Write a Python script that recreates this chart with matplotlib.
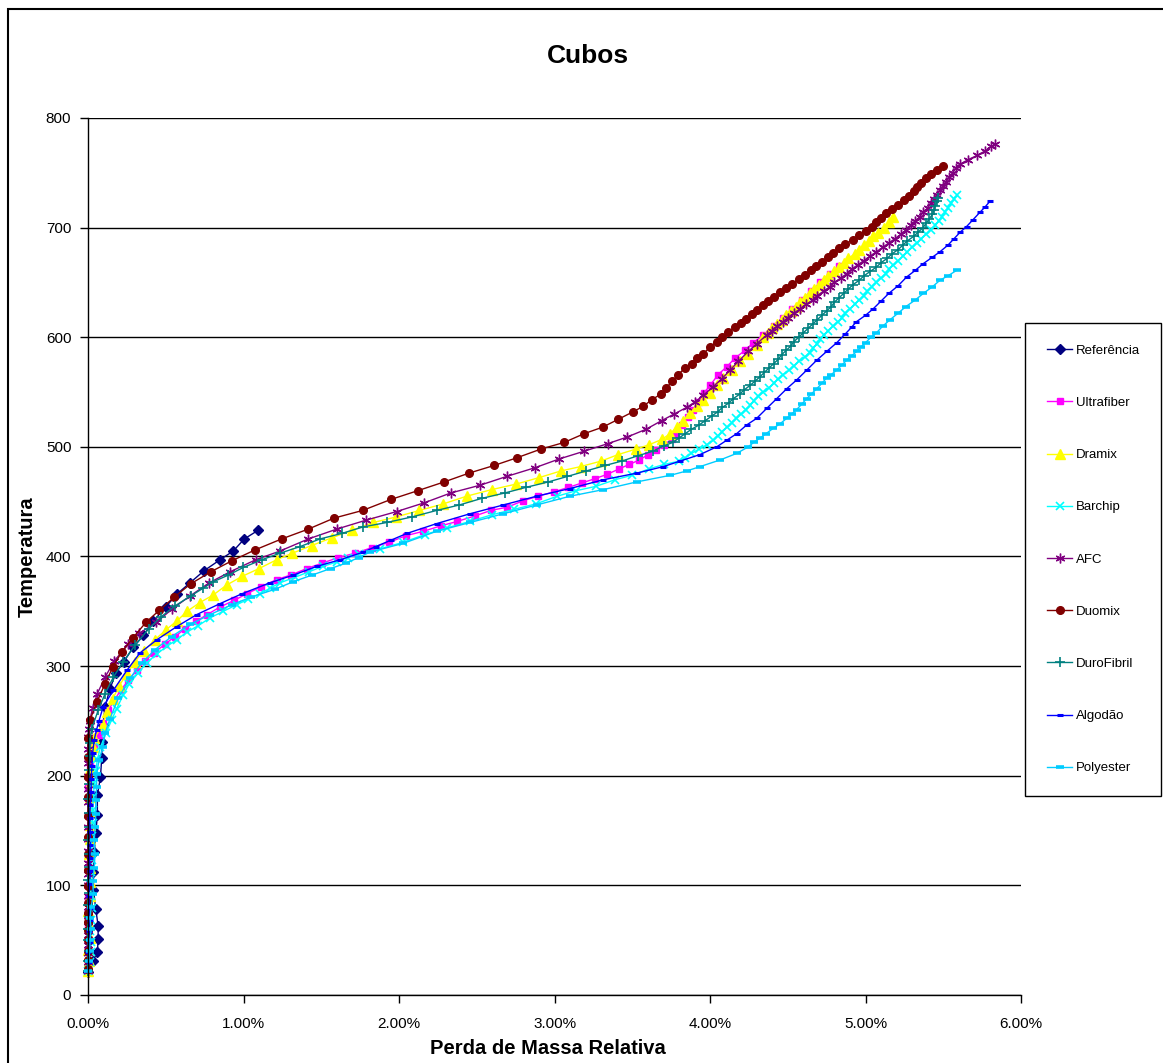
import matplotlib.pyplot as plt
from matplotlib.patches import Rectangle
from matplotlib.ticker import FuncFormatter, MultipleLocator

plt.rcParams['font.family'] = ['Liberation Sans', 'DejaVu Sans']

# Perda de massa relativa (%) x temperatura
ref_temp = [21, 31, 39, 51, 63, 78, 96, 112, 130, 148, 164, 182, 199, 216, 231, 246, 263, 279, 294, 304,
            317, 328, 341, 354, 366, 376, 387, 397, 405, 416, 424]
ref_loss = [0.00, 0.03, 0.06, 0.065, 0.065, 0.05, 0.035, 0.035, 0.04, 0.05, 0.06, 0.06, 0.08, 0.088, 0.09,
            0.095, 0.11, 0.14, 0.18, 0.23, 0.29, 0.356, 0.42, 0.50, 0.574, 0.656, 0.746, 0.849, 0.934, 1.005, 1.095]

ult_temp = [22, 30, 40, 50, 62, 75, 88, 101, 114, 127, 140, 152, 165, 178, 190, 200, 209, 226, 237, 248,
            260, 269, 278, 287, 296, 305, 312, 320, 327, 334, 341, 347, 354, 360, 366, 372, 379, 383, 389, 394,
            399, 403, 408, 413, 419, 423, 428, 432, 437, 442, 445, 451, 455, 459, 463, 467, 471, 475, 480, 484,
            488, 493, 497, 502, 507, 512, 520, 527, 534, 541, 549, 556, 566, 573, 581, 588, 595, 602, 610, 618,
            626, 634, 642, 650, 658, 665]
ult_loss = [0.0, 0.0, 0.0, 0.0, 0.0, 0.0, 0.0, 0.005, 0.0, 0.0, 0.005, 0.01, 0.01, 0.005, 0.0, 0.005, 0.013,
            0.039, 0.071, 0.094, 0.131, 0.17, 0.21, 0.259, 0.313, 0.367, 0.424, 0.495, 0.559, 0.624, 0.695, 0.767,
            0.849, 0.941, 1.02, 1.11, 1.213, 1.303, 1.406, 1.507, 1.61, 1.717, 1.824, 1.938, 2.045, 2.157, 2.27,
            2.375, 2.489, 2.59, 2.697, 2.8, 2.896, 2.997, 3.089, 3.175, 3.26, 3.34, 3.417, 3.481, 3.545, 3.603,
            3.653, 3.704, 3.754, 3.78, 3.82, 3.86, 3.89, 3.93, 3.96, 4.0, 4.053, 4.107, 4.161, 4.225, 4.278, 4.343,
            4.41, 4.47, 4.53, 4.59, 4.65, 4.71, 4.77, 4.83]

dra_temp = [22, 31, 41, 52, 64, 77, 90, 103, 116, 129, 142, 155, 168, 181, 194, 206, 218, 226, 234, 246,
            258, 270, 282, 293, 304, 314, 324, 333, 341, 350, 358, 365, 374, 382, 389, 397, 403, 410, 417, 424,
            431, 436, 442, 448, 455, 461, 466, 472, 478, 482, 487, 493, 498, 502, 507, 512, 518, 524, 531, 537,
            543, 549, 556, 563, 570, 578, 585, 593] + \
           [600, 604, 608, 612, 616, 620, 624, 628, 632, 636, 640, 644, 648, 652, 656, 660, 664, 668, 672, 676,
            680, 684, 688, 692, 695, 700, 705, 710]
dra_loss = [0.0, 0.005, 0.0, 0.01, 0.005, 0.0, 0.01, 0.015, 0.01, 0.005, 0.01, 0.015, 0.01, 0.015, 0.02,
            0.015, 0.02, 0.03, 0.039, 0.094, 0.12, 0.159, 0.20, 0.25, 0.30, 0.36, 0.43, 0.50, 0.57, 0.637,
            0.72, 0.806, 0.892, 0.993, 1.10, 1.213, 1.314, 1.438, 1.567, 1.70, 1.835, 1.98, 2.131, 2.285, 2.435,
            2.596, 2.752, 2.902, 3.04, 3.168, 3.299, 3.41, 3.524, 3.61, 3.693, 3.743, 3.786, 3.828, 3.871, 3.914,
            3.957, 4.0, 4.043, 4.086, 4.139, 4.193, 4.246, 4.30] + \
           [4.34, 4.37, 4.40, 4.43, 4.46, 4.49, 4.52, 4.55, 4.58, 4.61, 4.64, 4.67, 4.70, 4.73, 4.76, 4.80, 4.83,
            4.86, 4.89, 4.93, 4.96, 4.99, 5.02, 5.05, 5.08, 5.12, 5.15, 5.18]

bar_temp = [22, 30, 39, 48, 58, 68, 79, 90, 101, 112, 123, 134, 145, 157, 169, 181, 193, 204, 215, 226,
            239, 251, 261, 274, 284, 294, 303, 311, 318, 324, 331, 337, 344, 350, 356, 361, 366, 371, 376, 381,
            386, 391, 395, 399, 402, 407, 413, 420, 426, 432, 438, 443, 448, 455, 460, 464, 470, 474, 480, 484,
            487] + \
           [490, 494, 498, 502, 506, 510, 514, 518, 522, 526, 530, 534, 538, 542, 546, 550, 554, 558, 562, 566,
            570, 574, 578, 582, 586, 590, 594, 598, 602, 606, 610, 614, 618, 622, 626, 630, 634, 638, 642, 646,
            650, 654, 658, 662, 666, 670, 674, 678, 682, 686, 690, 694, 698, 702, 706, 710, 714, 718, 722, 726,
            730]
bar_loss = [0.0, 0.01, 0.02, 0.02, 0.015, 0.02, 0.025, 0.02, 0.015, 0.02, 0.025, 0.02, 0.025, 0.03, 0.03,
            0.035, 0.04, 0.05, 0.06, 0.08, 0.116, 0.152, 0.184, 0.227, 0.266, 0.324, 0.377, 0.442, 0.506, 0.57,
            0.635, 0.71, 0.785, 0.87, 0.956, 1.03, 1.106, 1.17, 1.235, 1.33, 1.42, 1.51, 1.60, 1.67, 1.74, 1.88,
            2.028, 2.167, 2.307, 2.457, 2.596, 2.74, 2.881, 3.018, 3.138, 3.267, 3.389, 3.496, 3.61, 3.706,
            3.803] + \
           [3.84, 3.88, 3.93, 3.98, 4.02, 4.05, 4.075, 4.11, 4.14, 4.17, 4.20, 4.23, 4.26, 4.28, 4.31, 4.343,
            4.38, 4.41, 4.44, 4.47, 4.51, 4.54, 4.57, 4.61, 4.64, 4.66, 4.69, 4.71, 4.73, 4.76, 4.79, 4.82, 4.85,
            4.87, 4.90, 4.93, 4.96, 4.99, 5.01, 5.04, 5.07, 5.10, 5.13, 5.15, 5.18, 5.21, 5.24, 5.27, 5.30, 5.33,
            5.36, 5.39, 5.42, 5.45, 5.47, 5.49, 5.51, 5.53, 5.55, 5.57, 5.59]

afc_temp = [22, 30, 38, 46, 55, 63, 72, 80, 90, 100, 110, 120, 131, 142, 153, 164, 176, 188, 200, 212,
            224, 235, 243, 250, 262, 275, 290, 305, 320, 330, 340, 352, 364, 376, 386, 397, 405, 416, 425, 433,
            441, 449, 458, 465, 473, 481, 489, 496, 503, 509, 516, 524, 530, 536, 541, 547, 555, 562, 570, 578,
            587, 594, 602] + \
           [606, 610, 614, 618, 622, 626, 630, 634, 638, 642, 646, 650, 654, 658, 662, 666, 670, 674, 678, 682,
            686, 690, 694, 698, 702, 706, 710, 714, 718, 722, 726, 730, 734, 738, 742, 746, 750, 754, 758, 762,
            766, 770, 774, 776]
afc_loss = [0.0, 0.0, 0.0, 0.0, 0.0, 0.0, 0.0, 0.0, 0.0, 0.0, 0.0, 0.0, 0.0, 0.0, 0.0, 0.0, 0.0, 0.0, 0.0,
            0.0, 0.0, 0.0, 0.005, 0.01, 0.03, 0.06, 0.11, 0.17, 0.26, 0.33, 0.44, 0.54, 0.656, 0.78, 0.913,
            1.078, 1.235, 1.417, 1.60, 1.785, 1.985, 2.163, 2.334, 2.521, 2.692, 2.875, 3.031, 3.19, 3.344,
            3.468, 3.588, 3.69, 3.77, 3.85, 3.904, 3.957, 4.021, 4.075, 4.129, 4.182, 4.246, 4.30, 4.364] + \
           [4.40, 4.43, 4.47, 4.50, 4.54, 4.58, 4.62, 4.66, 4.69, 4.73, 4.77, 4.80, 4.84, 4.88, 4.91, 4.95, 4.99,
            5.03, 5.07, 5.11, 5.15, 5.19, 5.23, 5.26, 5.29, 5.32, 5.35, 5.37, 5.40, 5.42, 5.44, 5.46, 5.48, 5.50,
            5.52, 5.54, 5.56, 5.58, 5.61, 5.66, 5.72, 5.77, 5.81, 5.833]

duo_temp = [24, 32, 40, 50, 59, 67, 75, 84, 99, 114, 129, 144, 163, 181, 199, 217, 234, 251, 267, 284,
            299, 313, 326, 340, 351, 363, 375, 386, 396, 406, 416, 425, 435, 442, 452, 460, 468, 476, 483, 490,
            498, 504, 512, 518, 525, 532, 537, 543, 548, 554, 560, 566, 572, 576, 581, 585, 591, 596, 600] + \
           [605, 609, 613, 617, 621, 625, 629, 633, 637, 641, 645, 649, 653, 657, 661, 665, 669, 673, 677, 681,
            685, 689, 693, 697, 701, 705, 709, 713, 717, 721, 725, 729, 733, 737, 741, 745, 749, 753, 756]
duo_loss = [0.0, 0.0, 0.0, 0.0, 0.0, 0.0, 0.0, 0.0, 0.0, 0.0, 0.0, 0.0, 0.0, 0.0, 0.0, 0.0, 0.0, 0.013,
            0.056, 0.11, 0.159, 0.217, 0.29, 0.373, 0.459, 0.555, 0.66, 0.789, 0.924, 1.074, 1.245, 1.417, 1.582,
            1.766, 1.947, 2.12, 2.29, 2.449, 2.611, 2.757, 2.913, 3.061, 3.19, 3.31, 3.408, 3.505, 3.571, 3.625,
            3.683, 3.72, 3.758, 3.796, 3.839, 3.882, 3.914, 3.957, 4.0, 4.043, 4.075] + \
           [4.118, 4.16, 4.20, 4.23, 4.27, 4.30, 4.34, 4.37, 4.41, 4.45, 4.49, 4.53, 4.57, 4.61, 4.65, 4.68,
            4.72, 4.76, 4.79, 4.83, 4.87, 4.92, 4.96, 5.00, 5.04, 5.07, 5.10, 5.13, 5.17, 5.21, 5.25, 5.28, 5.31,
            5.33, 5.36, 5.39, 5.42, 5.46, 5.50]

dur_temp = [22, 31, 40, 50, 60, 71, 82, 93, 105, 117, 129, 141, 153, 166, 179, 192, 205, 218, 230, 243,
            260, 275, 290, 304, 319, 334, 345, 355, 364, 371, 377, 383, 390, 397, 403, 409, 416, 421, 427, 431,
            436, 442, 447, 453, 458, 463, 468, 473, 478, 483, 487, 492, 496, 501] + \
           [504, 508, 512, 516, 520, 524, 528, 532, 536, 540, 544, 548, 552, 556, 560, 564, 568, 572, 576, 580,
            584, 588, 592, 596, 600, 604, 608, 612, 616, 620, 624, 628, 632, 636, 640, 644, 648, 652, 656, 660,
            664, 668, 672, 676, 680, 684, 688, 692, 696, 700, 704, 708, 712, 716, 720, 724, 727]
dur_loss = [0.0, 0.0, 0.005, 0.0, 0.0, 0.005, 0.0, 0.005, 0.0, 0.005, 0.005, 0.0, 0.005, 0.005, 0.0, 0.005,
            0.005, 0.01, 0.01, 0.024, 0.066, 0.11, 0.163, 0.227, 0.302, 0.39, 0.47, 0.56, 0.66, 0.74, 0.806,
            0.902, 0.999, 1.117, 1.235, 1.363, 1.492, 1.631, 1.77, 1.921, 2.081, 2.242, 2.388, 2.532, 2.682,
            2.815, 2.96, 3.082, 3.203, 3.325, 3.432, 3.539, 3.631, 3.704] + \
           [3.76, 3.80, 3.84, 3.88, 3.93, 3.97, 4.01, 4.05, 4.08, 4.12, 4.15, 4.19, 4.22, 4.257, 4.29, 4.322,
            4.35, 4.38, 4.41, 4.44, 4.46, 4.49, 4.52, 4.54, 4.57, 4.60, 4.63, 4.66, 4.69, 4.72, 4.75, 4.78, 4.80,
            4.83, 4.86, 4.89, 4.92, 4.96, 4.99, 5.03, 5.07, 5.10, 5.14, 5.17, 5.21, 5.24, 5.27, 5.31, 5.34, 5.37,
            5.39, 5.41, 5.43, 5.44, 5.45, 5.46, 5.468]

alg_temp = [22, 30, 39, 48, 58, 68, 79, 90, 101, 113, 125, 137, 149, 161, 173, 185, 197, 209, 221, 233,
            242, 250, 263, 278, 296, 312, 324, 336, 347, 357, 366, 376, 383, 391, 397, 404, 409, 415, 421, 430,
            439, 447, 455, 462, 470, 476, 482, 487, 493, 500, 506, 512, 520, 526, 535, 544, 553, 561, 570, 579,
            587, 595] + \
           [603, 609, 614, 620, 626, 633, 640, 647, 655, 661, 667, 673, 678, 684, 690, 696, 701, 707, 714, 719,
            724]
alg_loss = [0.0, 0.005, 0.0, 0.01, 0.005, 0.01, 0.01, 0.005, 0.01, 0.015, 0.01, 0.015, 0.015, 0.01, 0.015,
            0.02, 0.02, 0.025, 0.03, 0.04, 0.055, 0.07, 0.098, 0.163, 0.249, 0.334, 0.442, 0.57, 0.699, 0.849,
            0.99, 1.17, 1.32, 1.471, 1.621, 1.77, 1.85, 1.95, 2.05, 2.242, 2.457, 2.671, 2.885, 3.10, 3.314,
            3.528, 3.70, 3.807, 3.936, 4.043, 4.107, 4.171, 4.236, 4.30, 4.364, 4.429, 4.493, 4.557, 4.622,
            4.686, 4.75, 4.815] + \
           [4.87, 4.91, 4.94, 5.00, 5.05, 5.10, 5.15, 5.21, 5.265, 5.32, 5.37, 5.43, 5.479, 5.53, 5.57, 5.61,
            5.65, 5.69, 5.736, 5.77, 5.80]

pol_temp = [22, 31, 40, 50, 60, 70, 80, 92, 104, 116, 129, 141, 153, 165, 178, 190, 202, 214, 226, 239,
            252, 271, 289, 303, 315, 327, 338, 347, 356, 363, 370, 377, 383, 389, 394, 399, 404, 412, 423, 431,
            439, 447, 455, 461, 468, 474, 478, 482, 488, 494] + \
           [500, 504, 508, 512, 517, 521, 526, 530, 534, 539, 544, 548, 553, 558, 563, 566, 570, 575, 579, 583,
            587, 591, 595, 600, 604, 610, 616, 622, 628, 634, 640, 646, 652, 656, 661]
pol_loss = [0.0, 0.005, 0.01, 0.013, 0.02, 0.013, 0.02, 0.034, 0.03, 0.04, 0.045, 0.04, 0.045, 0.05, 0.05,
            0.055, 0.056, 0.07, 0.095, 0.11, 0.141, 0.195, 0.27, 0.345, 0.431, 0.538, 0.656, 0.785, 0.924, 1.05,
            1.20, 1.32, 1.44, 1.56, 1.66, 1.74, 1.813, 2.028, 2.242, 2.457, 2.671, 2.885, 3.10, 3.314, 3.528,
            3.743, 3.85, 3.936, 4.064, 4.171] + \
           [4.246, 4.28, 4.322, 4.36, 4.407, 4.45, 4.493, 4.525, 4.557, 4.59, 4.622, 4.65, 4.686, 4.72, 4.75,
            4.78, 4.815, 4.85, 4.879, 4.91, 4.943, 4.97, 5.0, 5.035, 5.07, 5.11, 5.158, 5.21, 5.26, 5.32, 5.372,
            5.43, 5.479, 5.53, 5.586]

labels = ['Referência', 'Ultrafiber', 'Dramix', 'Barchip', 'AFC', 'Duomix', 'DuroFibril', 'Algodão', 'Polyester']
x_data = [ref_loss, ult_loss, dra_loss, bar_loss, afc_loss, duo_loss, dur_loss, alg_loss, pol_loss]
y_data = [ref_temp, ult_temp, dra_temp, bar_temp, afc_temp, duo_temp, dur_temp, alg_temp, pol_temp]
colors = ['#000080', '#FF00FF', '#FFFF00', '#00FFFF', '#800080', '#800000', '#008080', '#0000FF', '#00CCFF']
# (marcador, tamanho, espessura da borda)
markers = [('D', 5, 1), ('s', 5, 1), ('^', 6.5, 1), ('x', 6, 1.2), ((6, 2, 0), 7, 1),
           ('o', 5.5, 1), ('+', 7, 1.2), ('_', 4, 2.2), ('_', 6, 2.6)]

fig = plt.figure(figsize=(11.63, 10.63), dpi=100)
ax = fig.add_axes([0.0757, 0.064, 0.8022, 0.825])

for lab, xs, ys, c, (m, ms, mew) in zip(labels, x_data, y_data, colors, markers):
    ax.plot(xs, ys, color=c, lw=1, marker=m, markersize=ms, markeredgewidth=mew,
            markerfacecolor=c, markeredgecolor=c, label=lab, clip_on=False)

ax.set_xlim(0, 6)
ax.set_ylim(0, 800)
ax.xaxis.set_major_locator(MultipleLocator(1))
ax.yaxis.set_major_locator(MultipleLocator(100))
ax.xaxis.set_major_formatter(FuncFormatter(lambda v, p: '{:.2f}%'.format(v)))
ax.yaxis.grid(True, color='black', lw=1)
ax.set_axisbelow(True)
for s in ['top', 'right']:
    ax.spines[s].set_visible(False)
for s in ['left', 'bottom']:
    ax.spines[s].set_color('black')
    ax.spines[s].set_linewidth(1)
ax.tick_params(direction='out', length=6, width=1, labelsize=11, colors='black', pad=6)
ax.tick_params(axis='x', pad=10)

fig.text(0.5056, 0.947, 'Cubos', fontsize=19, fontweight='bold', ha='center', va='center')
fig.text(0.0232, 0.476, 'Temperatura', fontsize=14.5, fontweight='bold', rotation=90,
         ha='center', va='center')
fig.text(0.471, 0.0132, 'Perda de Massa Relativa', fontsize=14.5, fontweight='bold',
         ha='center', va='center')

leg = fig.legend(loc='center', bbox_to_anchor=(0.9400, 0.4737), fontsize=9.5, numpoints=1,
                 labelspacing=3.03, borderpad=1.62, handlelength=1.95, handletextpad=0.25,
                 fancybox=False, framealpha=1, edgecolor='black')
leg.get_frame().set_linewidth(1)

# moldura do grafico
fig.patches.append(Rectangle((0.0069, -0.1), 1.2, 1.0915, transform=fig.transFigure,
                             fill=False, edgecolor='black', lw=1.5))

fig.savefig('out.png', dpi=100)
